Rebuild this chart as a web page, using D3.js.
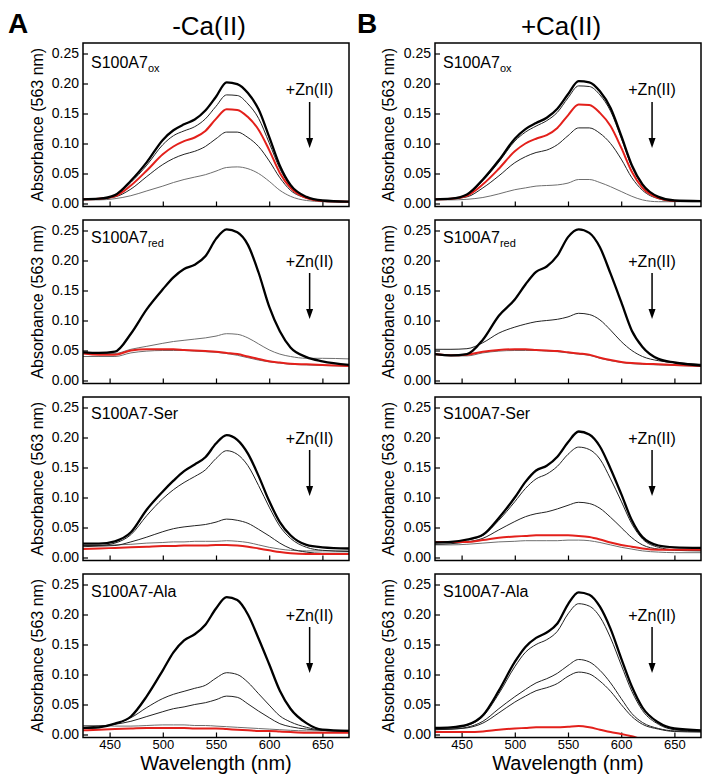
<!DOCTYPE html>
<html>
<head>
<meta charset="UTF-8">
<title>S100A7 Zn(II) titration</title>
<script src="https://cdnjs.cloudflare.com/ajax/libs/d3/7.8.5/d3.min.js"></script>
<style>
  body { margin: 0; background: #fff; }
  svg { font-family: Arial, "Liberation Sans", sans-serif; }
  .tick line { stroke: #000; stroke-width: 1.2; }
  .tick text { font-size: 14px; fill: #000; }
  .xax .tick text { font-size: 13px; }
</style>
</head>
<body>
<script>
// wavelengths (nm) at which the spectra were read
var wl = [425,440,455,470,485,500,510,520,530,540,550,560,570,580,590,600,610,620,635,650,675];

var yTicks = [0, 0.05, 0.10, 0.15, 0.20, 0.25];
var xTicks = [450, 500, 550, 600, 650];

var columnTitles = ["-Ca(II)", "+Ca(II)"];
var columnLetters = ["A", "B"];
var rowNames = ["S100A7", "S100A7", "S100A7-Ser", "S100A7-Ala"];
var rowSubs = ["ox", "red", "", ""];

// -Ca(II)
var noCaOx = [
  [.006,.006,.008,.013,.021,.029,.035,.040,.044,.048,.054,.060,.061,.058,.050,.037,.022,.012,.005,.003,.002],
  [.007,.008,.011,.024,.045,.065,.075,.082,.087,.095,.108,.119,.119,.110,.095,.071,.043,.022,.009,.004,.003],
  [.007,.008,.013,.035,.064,.098,.113,.121,.128,.141,.162,.181,.180,.166,.142,.101,.058,.029,.010,.005,.003],
  [.007,.008,.012,.030,.055,.082,.095,.104,.110,.121,.141,.157,.156,.144,.123,.089,.051,.026,.009,.004,.003],
  [.007,.008,.014,.038,.069,.106,.122,.132,.140,.155,.178,.202,.199,.184,.157,.111,.063,.031,.011,.005,.003]
];
var noCaRed = [
  [.040,.040,.040,.046,.049,.050,.050,.050,.049,.048,.047,.045,.042,.038,.034,.031,.029,.027,.026,.025,.024],
  [.046,.045,.045,.052,.057,.062,.065,.067,.069,.071,.074,.078,.077,.071,.061,.051,.044,.040,.037,.037,.036],
  [.045,.043,.043,.050,.052,.052,.052,.051,.050,.049,.048,.046,.044,.040,.036,.032,.030,.028,.027,.026,.024],
  [.047,.046,.048,.078,.119,.152,.172,.186,.193,.207,.236,.252,.247,.226,.180,.123,.082,.055,.039,.032,.026]
];
var noCaSer = [
  [.020,.020,.021,.022,.024,.025,.026,.026,.027,.027,.027,.028,.027,.025,.021,.017,.014,.012,.011,.011,.011],
  [.018,.019,.020,.026,.034,.043,.048,.051,.053,.055,.059,.064,.062,.057,.047,.036,.024,.015,.009,.007,.007],
  [.020,.020,.024,.038,.070,.098,.113,.125,.135,.146,.165,.178,.172,.153,.120,.084,.052,.032,.017,.012,.010],
  [.014,.015,.016,.017,.018,.019,.019,.020,.020,.020,.021,.021,.020,.018,.015,.012,.009,.007,.006,.006,.006],
  [.023,.023,.027,.042,.080,.110,.128,.144,.155,.167,.190,.204,.196,.173,.136,.094,.059,.037,.021,.017,.015]
];
var noCaAla = [
  [.015,.015,.014,.014,.015,.016,.016,.016,.015,.015,.014,.013,.012,.011,.010,.009,.008,.007,.006,.006,.007],
  [.012,.014,.017,.022,.030,.038,.043,.046,.050,.053,.058,.064,.062,.051,.039,.028,.018,.013,.009,.007,.006],
  [.010,.012,.018,.028,.045,.060,.067,.072,.077,.082,.094,.103,.100,.087,.068,.049,.031,.021,.012,.007,.005],
  [.007,.008,.009,.010,.011,.011,.011,.011,.010,.010,.010,.009,.008,.007,.006,.006,.005,.004,.003,.003,.003],
  [.011,.012,.018,.030,.064,.107,.137,.157,.167,.183,.210,.229,.224,.200,.160,.117,.073,.043,.019,.008,.006]
];

// +Ca(II)
var caOx = [
  [.006,.006,.007,.010,.016,.023,.026,.029,.030,.031,.034,.040,.040,.035,.028,.020,.012,.006,.003,.003,.003],
  [.007,.008,.011,.026,.046,.068,.078,.085,.089,.098,.113,.126,.126,.117,.100,.074,.043,.022,.008,.004,.004],
  [.007,.008,.014,.038,.069,.104,.119,.129,.138,.152,.176,.196,.195,.181,.154,.109,.061,.030,.010,.005,.004],
  [.007,.008,.013,.032,.058,.087,.100,.108,.114,.126,.147,.165,.164,.151,.129,.093,.053,.026,.009,.004,.004],
  [.007,.008,.015,.040,.072,.108,.124,.134,.143,.158,.182,.204,.202,.187,.159,.113,.064,.032,.011,.005,.004]
];
var caRed = [
  [.043,.041,.041,.046,.049,.050,.050,.050,.049,.048,.046,.044,.042,.037,.033,.030,.028,.027,.026,.025,.024],
  [.052,.052,.053,.063,.079,.089,.094,.098,.100,.102,.106,.112,.110,.101,.084,.065,.050,.040,.033,.030,.027],
  [.044,.042,.043,.048,.051,.052,.052,.051,.050,.049,.047,.045,.043,.038,.034,.031,.029,.028,.027,.026,.024],
  [.044,.042,.044,.068,.108,.135,.160,.181,.190,.208,.239,.252,.246,.222,.178,.131,.083,.056,.036,.030,.025]
];
var caSer = [
  [.021,.021,.022,.024,.026,.027,.028,.028,.028,.028,.029,.029,.028,.025,.021,.017,.014,.011,.009,.008,.008],
  [.022,.023,.026,.032,.046,.060,.068,.073,.076,.081,.087,.092,.090,.082,.067,.050,.033,.021,.014,.012,.011],
  [.025,.025,.029,.037,.062,.093,.115,.131,.139,.152,.172,.184,.180,.164,.131,.094,.056,.031,.017,.013,.012],
  [.026,.026,.026,.029,.033,.035,.036,.037,.037,.037,.037,.036,.034,.030,.025,.021,.018,.015,.013,.013,.013],
  [.025,.026,.030,.038,.066,.100,.126,.145,.153,.168,.192,.210,.205,.185,.148,.106,.062,.034,.020,.017,.016]
];
var caAla = [
  [.008,.009,.011,.019,.036,.054,.064,.073,.078,.085,.097,.104,.101,.089,.072,.050,.030,.017,.009,.005,.004],
  [.008,.009,.012,.022,.043,.063,.075,.086,.093,.102,.115,.125,.121,.107,.086,.060,.035,.020,.010,.006,.005],
  [.010,.011,.015,.030,.068,.113,.137,.150,.158,.172,.201,.218,.214,.196,.161,.116,.072,.040,.017,.008,.005],
  [.004,.004,.004,.005,.008,.010,.011,.012,.012,.012,.013,.014,.012,.008,.004,.001,-.003,-.008,-.012,-.012,-.012],
  [.011,.012,.016,.032,.073,.121,.146,.161,.170,.185,.217,.237,.233,.213,.176,.127,.080,.045,.020,.010,.007]
];

var panelData = [
  [noCaOx, noCaRed, noCaSer, noCaAla],
  [caOx, caRed, caSer, caAla]
];
// line style of each trace, same order as the arrays above
var panelKinds = [
  [["grey", "thin", "thin", "red", "thick"], ["grey", "grey", "red", "thick"],
   ["grey", "thin", "thin", "red", "thick"], ["grey", "thin", "thin", "red", "thick"]],
  [["grey", "thin", "thin", "red", "thick"], ["grey", "thin", "red", "thick"],
   ["grey", "thin", "thin", "red", "thick"], ["thin", "thin", "thin", "red", "thick"]]
];
var styles = {
  thick: {stroke: "#000", width: 2.3},
  thin:  {stroke: "#222", width: 1},
  grey:  {stroke: "#6e6e6e", width: 1},
  red:   {stroke: "#e3201b", width: 2}
};

var W = 711, H = 782;
var plotW = 266, plotH = 163.5;
var colLeft = [83, 435];
var rowTop = [43, 220, 397, 574];
var arrowAt = [638, 629];
var znPos = [{t: 52, a0: 59, a1: 105}, {t: 47, a0: 53, a1: 99}, {t: 47, a0: 53, a1: 99}, {t: 47, a0: 53, a1: 99}];
var nameBase = [25, 23, 22, 23];

var svg = d3.select("body").append("svg")
    .attr("width", W)
    .attr("height", H);

var x = d3.scaleLinear().domain([425, 675]).range([0, plotW]);
var y = d3.scaleLinear().domain([-0.005, 0.2675]).range([plotH, 0]);

var line = d3.line()
    .x(function(d) { return x(d[0]); })
    .y(function(d) { return y(d[1]); })
    .curve(d3.curveMonotoneX);

columnTitles.forEach(function(title, c) {
  svg.append("text")
      .attr("x", colLeft[c] + 126)
      .attr("y", 35)
      .attr("text-anchor", "middle")
      .style("font-size", "26px")
      .text(title);
  svg.append("text")
      .attr("x", c === 0 ? 8 : 357)
      .attr("y", 33)
      .style("font-size", "28px")
      .style("font-weight", "bold")
      .text(columnLetters[c]);
});

panelData.forEach(function(col, c) {
  col.forEach(function(series, r) {
    var g = svg.append("g")
        .attr("transform", "translate(" + colLeft[c] + "," + rowTop[r] + ")");

    var clipId = "clip-" + c + "-" + r;
    g.append("clipPath").attr("id", clipId)
      .append("rect").attr("width", plotW).attr("height", plotH);

    // y axis, ticks pointing inward
    var ya = g.append("g")
        .call(d3.axisLeft(y).tickValues(yTicks).tickFormat(d3.format(".2f")).tickSize(-5).tickPadding(4));
    ya.select(".domain").remove();

    var xa = g.append("g")
        .attr("class", "xax")
        .attr("transform", "translate(0," + plotH + ")")
        .call(d3.axisBottom(x).tickValues(xTicks).tickSize(-5).tickPadding(2));
    xa.select(".domain").remove();
    if (r < 3) xa.selectAll("text").remove();

    // spectra
    var kinds = panelKinds[c][r];
    g.append("g")
        .attr("clip-path", "url(#" + clipId + ")")
      .selectAll("path")
      .data(series)
      .enter().append("path")
        .attr("fill", "none")
        .attr("stroke", function(d, i) { return styles[kinds[i]].stroke; })
        .attr("stroke-width", function(d, i) { return styles[kinds[i]].width; })
        .attr("stroke-linejoin", "round")
        .attr("d", function(d) { return line(d.map(function(v, i) { return [wl[i], v]; })); });

    // frame
    g.append("rect")
        .attr("width", plotW)
        .attr("height", plotH)
        .attr("fill", "none")
        .attr("stroke", "#000")
        .attr("stroke-width", 1.5);

    // protein label
    var lab = g.append("text")
        .attr("x", 8)
        .attr("y", nameBase[r])
        .style("font-size", "16px")
        .text(rowNames[r]);
    if (rowSubs[r]) {
      lab.append("tspan")
          .attr("dy", 4)
          .style("font-size", "11px")
          .text(rowSubs[r]);
    }

    // +Zn(II) arrow
    var ax = x(arrowAt[c]);
    g.append("text")
        .attr("x", ax)
        .attr("y", znPos[r].t)
        .attr("text-anchor", "middle")
        .style("font-size", "16px")
        .text("+Zn(II)");
    g.append("line")
        .attr("x1", ax).attr("x2", ax)
        .attr("y1", znPos[r].a0).attr("y2", znPos[r].a1 - 8)
        .attr("stroke", "#000")
        .attr("stroke-width", 1.5);
    g.append("path")
        .attr("d", "M" + (ax - 3.5) + "," + (znPos[r].a1 - 10) + "L" + (ax + 3.5) + "," + (znPos[r].a1 - 10) + "L" + ax + "," + znPos[r].a1 + "Z")
        .attr("fill", "#000");

    // y axis title
    g.append("text")
        .attr("transform", "translate(" + (c === 0 ? -40 : -41) + "," + (plotH / 2) + ") rotate(-90)")
        .attr("text-anchor", "middle")
        .style("font-size", "16px")
        .text("Absorbance (563 nm)");

    if (r === 3) {
      g.append("text")
          .attr("x", plotW / 2)
          .attr("y", plotH + 32)
          .attr("text-anchor", "middle")
          .style("font-size", "20px")
          .text("Wavelength (nm)");
    }
  });
});
</script>
</body>
</html>
